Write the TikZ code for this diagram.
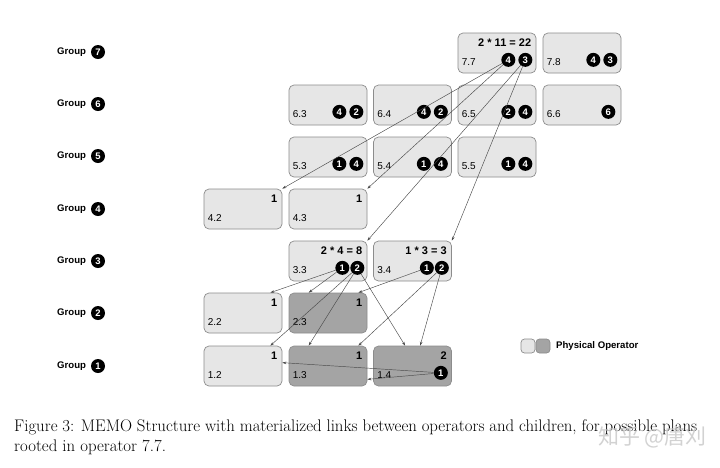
\documentclass[tikz,border=0pt]{standalone}
\usepackage{fontspec}
\newfontfamily\hv{Liberation Sans}
\newfontfamily\cjk{Noto Sans CJK SC}
\usetikzlibrary{arrows.meta,calc}
\definecolor{lightop}{HTML}{E6E6E6}
\definecolor{darkopc}{HTML}{A4A4A4}
\definecolor{boxborder}{HTML}{8C8C8C}
\definecolor{linkc}{HTML}{4A4A4A}
\newcommand\mybox[5]{%
  \node[#3] (#1) at (#2) {};
  \node[toptxt] (#1t) at ([shift={(-5pt,-10pt)}]#1.north east) {#4};
  \node[idtxt] (#1i) at ([shift={(4pt,11pt)}]#1.south west) {#5};
}
\newcommand\grpc[3]{\node[grpcirc] (#1) at (#2) {#3};}
\begin{document}
\begin{tikzpicture}[x=1pt,y=-1pt,
  opbox/.style={draw=boxborder, fill=lightop, rounded corners=5pt, minimum width=78pt, minimum height=40pt, inner sep=0pt, line width=0.7pt},
  darkbox/.style={opbox, fill=darkopc},
  grpcirc/.style={circle, fill=black, text=white, inner sep=0pt, minimum size=14pt, font=\hv\bfseries\fontsize{9.5}{9.5}\selectfont},
  toptxt/.style={anchor=east, inner sep=0pt, font=\hv\bfseries\fontsize{11}{12}\selectfont},
  idtxt/.style={anchor=west, inner sep=0pt, font=\hv\fontsize{10}{11}\selectfont},
  grplbl/.style={anchor=west, inner sep=0pt, font=\hv\bfseries\fontsize{9.6}{11}\selectfont},
  link/.style={draw=linkc, line width=0.45pt, -{Stealth[length=4pt,width=2.6pt]}}
]
\useasboundingbox[fill=white] (0,0) rectangle (720,467);

% group labels
\foreach \g/\yy in {7/52,6/104,5/156,4/209,3/261,2/313,1/366}{
  \node[grplbl] (gl\g) at (57,\yy) {Group};
  \node[grpcirc] (gn\g) at (98,\yy) {\g};
}

% boxes
\mybox{b77}{497,53}{opbox}{2 * 11 = 22}{7.7}
\mybox{b78}{582,53}{opbox}{}{7.8}
\mybox{b63}{328,105}{opbox}{}{6.3}
\mybox{b64}{412.5,105}{opbox}{}{6.4}
\mybox{b65}{497,105}{opbox}{}{6.5}
\mybox{b66}{582,105}{opbox}{}{6.6}
\mybox{b53}{328,157}{opbox}{}{5.3}
\mybox{b54}{412.5,157}{opbox}{}{5.4}
\mybox{b55}{497,157}{opbox}{}{5.5}
\mybox{b42}{243,209}{opbox}{1}{4.2}
\mybox{b43}{328,209}{opbox}{1}{4.3}
\mybox{b33}{328,261}{opbox}{2 * 4 = 8}{3.3}
\mybox{b34}{412.5,261}{opbox}{1 * 3 = 3}{3.4}
\mybox{b22}{243,313}{opbox}{1}{2.2}
\mybox{b23}{328,313}{darkbox}{1}{2.3}
\mybox{b12}{243,366}{opbox}{1}{1.2}
\mybox{b13}{328,366}{darkbox}{1}{1.3}
\mybox{b14}{412.5,366}{darkbox}{2}{1.4}

% child circles
\grpc{b77a}{[shift={(-28pt,13.5pt)}]b77.south east}{4}
\grpc{b77b}{[shift={(-11pt,13.5pt)}]b77.south east}{3}
\grpc{b78a}{[shift={(-28pt,13.5pt)}]b78.south east}{4}
\grpc{b78b}{[shift={(-11pt,13.5pt)}]b78.south east}{3}
\grpc{b63a}{[shift={(-28pt,13.5pt)}]b63.south east}{4}
\grpc{b63b}{[shift={(-11pt,13.5pt)}]b63.south east}{2}
\grpc{b64a}{[shift={(-28pt,13.5pt)}]b64.south east}{4}
\grpc{b64b}{[shift={(-11pt,13.5pt)}]b64.south east}{2}
\grpc{b65a}{[shift={(-28pt,13.5pt)}]b65.south east}{2}
\grpc{b65b}{[shift={(-11pt,13.5pt)}]b65.south east}{4}
\grpc{b66a}{[shift={(-13pt,13.5pt)}]b66.south east}{6}
\grpc{b53a}{[shift={(-28pt,13.5pt)}]b53.south east}{1}
\grpc{b53b}{[shift={(-11pt,13.5pt)}]b53.south east}{4}
\grpc{b54a}{[shift={(-28pt,13.5pt)}]b54.south east}{1}
\grpc{b54b}{[shift={(-11pt,13.5pt)}]b54.south east}{4}
\grpc{b55a}{[shift={(-28pt,13.5pt)}]b55.south east}{1}
\grpc{b55b}{[shift={(-11pt,13.5pt)}]b55.south east}{4}
\grpc{b33a}{[shift={(-25pt,13.5pt)}]b33.south east}{1}
\grpc{b33b}{[shift={(-10pt,13.5pt)}]b33.south east}{2}
\grpc{b34a}{[shift={(-25pt,13.5pt)}]b34.south east}{1}
\grpc{b34b}{[shift={(-10pt,13.5pt)}]b34.south east}{2}
\grpc{b14a}{[shift={(-11pt,13.5pt)}]b14.south east}{1}

% links
\draw[link] (b77a) -- (b42.north east);
\draw[link] (b77a) -- (b43.north east);
\draw[link] (b77b) -- (b33.north east);
\draw[link] (b77b) -- (b34.north east);
\draw[link] (b33a) -- ([xshift=-12pt]b22.north east);
\draw[link] (b33a) -- ([xshift=20pt]b23.north west);
\draw[link] (b33b) -- ([xshift=-12pt]b12.north east);
\draw[link] (b33b) -- ([xshift=20pt]b13.north west);
\draw[link] (b33b) -- ([xshift=32pt]b14.north west);
\draw[link] (b34a) -- ([xshift=-9pt]b23.north east);
\draw[link] (b34b) -- ([xshift=-9pt]b13.north east);
\draw[link] (b34b) -- ([xshift=47pt]b14.north west);
\draw[link] (b14a) -- ([yshift=-17pt]b12.north east);
\draw[link] (b14a) -- ([yshift=7pt]b13.south east);

% legend
\node[opbox, minimum width=14pt, minimum height=14pt, rounded corners=3.5pt] (leg1) at (528,346) {};
\node[darkbox, minimum width=14pt, minimum height=14pt, rounded corners=3.5pt] (leg2) at (543,346) {};
\node[grplbl] (legt) at (556,346) {Physical Operator};

% caption
\node[anchor=west, inner sep=0pt, font=\fontsize{16.8}{20}\selectfont] (cap1) at (14,427)
  {\makebox[683pt][s]{Figure 3: MEMO Structure with materialized links between operators and children, for possible plans}};
\node[anchor=west, inner sep=0pt, font=\fontsize{16.8}{20}\selectfont] (cap2) at (14,447)
  {rooted in operator 7.7.};
\node[anchor=west, inner sep=0pt, text=black!22, opacity=0.8, font=\cjk\fontsize{21}{24}\selectfont] (wm) at (598,437) {知乎 @唐刈};
\end{tikzpicture}
\end{document}
